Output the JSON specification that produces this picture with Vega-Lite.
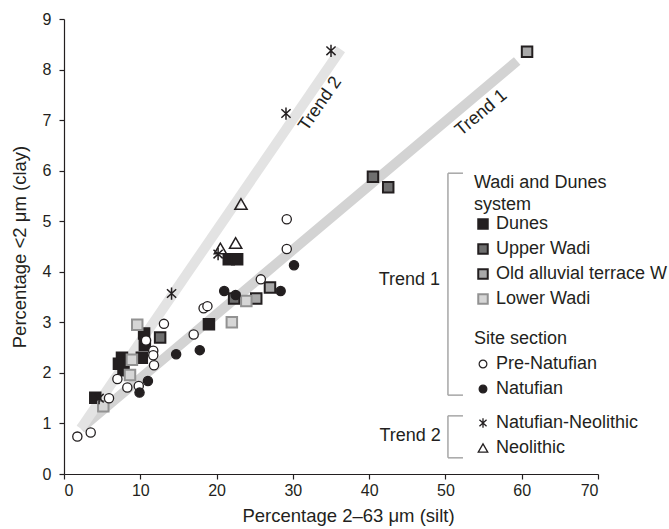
{
  "$schema": "https://vega.github.io/schema/vega-lite/v6.json",
  "width": 534,
  "height": 455,
  "autosize": {"type": "none"},
  "padding": {"left": 64, "top": 19, "right": 71, "bottom": 55},
  "background": "white",
  "config": {
    "view": {"stroke": null},
    "font": "Liberation Sans",
    "axis": {
      "grid": false,
      "domainColor": "#231f20",
      "domainWidth": 1.2,
      "tickColor": "#231f20",
      "tickWidth": 1.2,
      "tickSize": 5,
      "labelColor": "#231f20",
      "labelFontSize": 16,
      "labelFont": "Liberation Sans",
      "titleColor": "#231f20",
      "titleFontSize": 18.5,
      "titleFont": "Liberation Sans",
      "titleFontWeight": "normal"
    },
    "legend": {
      "labelFont": "Liberation Sans",
      "labelFontSize": 18,
      "labelColor": "#231f20",
      "labelLimit": 0,
      "titleFont": "Liberation Sans",
      "titleFontSize": 18,
      "titleLimit": 0,
      "titleFontWeight": "normal",
      "titleColor": "#231f20",
      "padding": 0,
      "rowPadding": 7,
      "labelOffset": 4
    }
  },
  "datasets": {
    "trends": [
      {"trend": "Trend 1", "silt": 2.2, "clay": 0.9},
      {"trend": "Trend 1", "silt": 59.4, "clay": 8.17},
      {"trend": "Trend 2", "silt": 2.2, "clay": 0.9},
      {"trend": "Trend 2", "silt": 36.3, "clay": 8.4}
    ],
    "wadi": [
      {"system": "Dunes", "silt": 4.1, "clay": 1.51},
      {"system": "Dunes", "silt": 7.6, "clay": 2.3},
      {"system": "Dunes", "silt": 7.2, "clay": 2.18},
      {"system": "Dunes", "silt": 7.8, "clay": 2.05},
      {"system": "Dunes", "silt": 10.5, "clay": 2.78},
      {"system": "Dunes", "silt": 10.6, "clay": 2.55},
      {"system": "Dunes", "silt": 10.2, "clay": 2.3},
      {"system": "Dunes", "silt": 19.0, "clay": 2.96},
      {"system": "Dunes", "silt": 21.6, "clay": 4.25},
      {"system": "Dunes", "silt": 22.7, "clay": 4.25},
      {"system": "Upper Wadi", "silt": 12.6, "clay": 2.7},
      {"system": "Upper Wadi", "silt": 22.3, "clay": 3.47},
      {"system": "Upper Wadi", "silt": 40.5, "clay": 5.88},
      {"system": "Upper Wadi", "silt": 42.5, "clay": 5.67},
      {"system": "Old alluvial terrace W", "silt": 25.2, "clay": 3.47},
      {"system": "Old alluvial terrace W", "silt": 27.0, "clay": 3.69},
      {"system": "Old alluvial terrace W", "silt": 60.7, "clay": 8.35},
      {"system": "Lower Wadi", "silt": 9.6, "clay": 2.95},
      {"system": "Lower Wadi", "silt": 8.9, "clay": 2.26},
      {"system": "Lower Wadi", "silt": 8.65, "clay": 1.96},
      {"system": "Lower Wadi", "silt": 5.15, "clay": 1.34},
      {"system": "Lower Wadi", "silt": 22.0, "clay": 3.0},
      {"system": "Lower Wadi", "silt": 23.9, "clay": 3.42}
    ],
    "site": [
      {"section": "Pre-Natufian", "silt": 1.75, "clay": 0.74},
      {"section": "Pre-Natufian", "silt": 3.5, "clay": 0.82},
      {"section": "Pre-Natufian", "silt": 5.9, "clay": 1.5},
      {"section": "Pre-Natufian", "silt": 7.0, "clay": 1.88},
      {"section": "Pre-Natufian", "silt": 8.3, "clay": 1.71},
      {"section": "Pre-Natufian", "silt": 9.8, "clay": 1.74},
      {"section": "Pre-Natufian", "silt": 10.75, "clay": 2.64},
      {"section": "Pre-Natufian", "silt": 11.7, "clay": 2.44},
      {"section": "Pre-Natufian", "silt": 11.7, "clay": 2.35},
      {"section": "Pre-Natufian", "silt": 11.8, "clay": 2.15},
      {"section": "Pre-Natufian", "silt": 13.1, "clay": 2.97},
      {"section": "Pre-Natufian", "silt": 17.0, "clay": 2.76},
      {"section": "Pre-Natufian", "silt": 18.3, "clay": 3.28},
      {"section": "Pre-Natufian", "silt": 18.8, "clay": 3.32},
      {"section": "Pre-Natufian", "silt": 25.8, "clay": 3.85},
      {"section": "Pre-Natufian", "silt": 29.2, "clay": 4.45},
      {"section": "Pre-Natufian", "silt": 29.2, "clay": 5.04},
      {"section": "Natufian", "silt": 9.9, "clay": 1.61},
      {"section": "Natufian", "silt": 11.0, "clay": 1.84},
      {"section": "Natufian", "silt": 14.7, "clay": 2.37},
      {"section": "Natufian", "silt": 17.8, "clay": 2.45},
      {"section": "Natufian", "silt": 21.0, "clay": 3.62},
      {"section": "Natufian", "silt": 22.5, "clay": 3.54},
      {"section": "Natufian", "silt": 28.4, "clay": 3.62},
      {"section": "Natufian", "silt": 30.15, "clay": 4.13}
    ],
    "trend2": [
      {"period": "Natufian-Neolithic", "silt": 4.6, "clay": 1.5},
      {"period": "Natufian-Neolithic", "silt": 14.1, "clay": 3.57},
      {"period": "Natufian-Neolithic", "silt": 20.2, "clay": 4.35},
      {"period": "Natufian-Neolithic", "silt": 29.1, "clay": 7.13},
      {"period": "Natufian-Neolithic", "silt": 35.0, "clay": 8.37},
      {"period": "Neolithic", "silt": 20.5, "clay": 4.46},
      {"period": "Neolithic", "silt": 22.5, "clay": 4.57},
      {"period": "Neolithic", "silt": 23.2, "clay": 5.34}
    ],
    "brackets": [
      {"group": "Trend 1", "silt": 50.33, "silt2": 50.33, "clay": 5.95, "clay2": 1.56},
      {"group": "Trend 1", "silt": 50.33, "silt2": 52.3, "clay": 5.95, "clay2": 5.95},
      {"group": "Trend 1", "silt": 50.33, "silt2": 52.3, "clay": 1.56, "clay2": 1.56},
      {"group": "Trend 2", "silt": 50.33, "silt2": 50.33, "clay": 1.15, "clay2": 0.32},
      {"group": "Trend 2", "silt": 50.33, "silt2": 52.3, "clay": 1.15, "clay2": 1.15},
      {"group": "Trend 2", "silt": 50.33, "silt2": 52.3, "clay": 0.32, "clay2": 0.32}
    ],
    "bracketLabels": [
      {"label": "Trend 1", "silt": 49.3, "clay": 3.84},
      {"label": "Trend 2", "silt": 49.4, "clay": 0.75}
    ]
  },
  "encoding": {
    "x": {
      "field": "silt", "type": "quantitative",
      "scale": {"domain": [0, 70], "nice": false},
      "axis": {"values": [0, 10, 20, 30, 40, 50, 60, 70], "title": "Percentage 2–63 μm (silt)", "labelPadding": 3, "titlePadding": 8, "titleX": 284}
    },
    "y": {
      "field": "clay", "type": "quantitative",
      "scale": {"domain": [0, 9], "nice": false},
      "axis": {"values": [0, 1, 2, 3, 4, 5, 6, 7, 8, 9], "title": "Percentage <2 μm (clay)", "labelPadding": 8, "titlePadding": 13}
    }
  },
  "layer": [
    {
      "data": {"name": "trends"},
      "mark": {"type": "line", "strokeWidth": 10, "strokeCap": "butt", "clip": false},
      "encoding": {
        "detail": {"field": "trend"},
        "stroke": {"field": "trend", "type": "nominal", "scale": {"domain": ["Trend 1", "Trend 2"], "range": ["#d3d3d3", "#e3e3e3"]}, "legend": null}
      }
    },
    {
      "data": {"values": [{"label": "Trend 2", "silt": 33.6, "clay": 7.32}]},
      "mark": {"type": "text", "angle": 304.5, "fontSize": 18, "color": "#231f20", "align": "center", "baseline": "middle"},
      "encoding": {"text": {"field": "label"}}
    },
    {
      "data": {"values": [{"label": "Trend 1", "silt": 54.7, "clay": 7.14}]},
      "mark": {"type": "text", "angle": 320, "fontSize": 18, "color": "#231f20", "align": "center", "baseline": "middle"},
      "encoding": {"text": {"field": "label"}}
    },
    {
      "data": {"name": "brackets"},
      "mark": {"type": "rule", "color": "#a6a6a6", "strokeWidth": 1.5, "clip": false},
      "encoding": {
        "x2": {"field": "silt2"},
        "y2": {"field": "clay2"}
      }
    },
    {
      "data": {"name": "bracketLabels"},
      "mark": {"type": "text", "fontSize": 18, "color": "#231f20", "align": "right", "baseline": "middle"},
      "encoding": {"text": {"field": "label"}}
    },
    {
      "data": {"name": "wadi"},
      "mark": {"type": "point", "shape": "square", "size": 110, "filled": true, "strokeWidth": 2, "opacity": 1},
      "encoding": {
        "fill": {
          "field": "system", "type": "nominal",
          "scale": {"domain": ["Dunes", "Upper Wadi", "Old alluvial terrace W", "Lower Wadi"], "range": ["#231f20", "#6f6f6f", "#a9a9a9", "#d6d6d6"]},
          "legend": {"title": ["Wadi and Dunes", "system"], "orient": "none", "legendX": 410, "legendY": 155, "titleLineHeight": 22, "titlePadding": 1, "symbolSize": 90, "symbolStrokeWidth": 2, "symbolType": "square"}
        },
        "stroke": {
          "field": "system", "type": "nominal",
          "scale": {"domain": ["Dunes", "Upper Wadi", "Old alluvial terrace W", "Lower Wadi"], "range": ["#231f20", "#231f20", "#231f20", "#929292"]},
          "legend": {"title": ["Wadi and Dunes", "system"], "orient": "none", "legendX": 410, "legendY": 155, "titleLineHeight": 22, "titlePadding": 1, "symbolSize": 90, "symbolStrokeWidth": 2, "symbolType": "square"}
        }
      }
    },
    {
      "data": {"name": "site"},
      "mark": {"type": "point", "shape": "circle", "size": 85, "filled": true, "stroke": "#231f20", "strokeWidth": 1.3, "opacity": 1},
      "encoding": {
        "fill": {
          "field": "section", "type": "nominal",
          "scale": {"domain": ["Pre-Natufian", "Natufian"], "range": ["#ffffff", "#231f20"]},
          "legend": {"title": "Site section", "orient": "none", "legendX": 410, "legendY": 311, "titlePadding": 7, "symbolSize": 60, "symbolStrokeColor": "#231f20", "symbolStrokeWidth": 1.2, "symbolType": "circle"}
        }
      }
    },
    {
      "data": {"name": "trend2"},
      "mark": {"type": "point", "size": 150, "filled": false, "stroke": "#231f20", "strokeWidth": 1.5, "opacity": 1},
      "encoding": {
        "shape": {
          "field": "period", "type": "nominal",
          "scale": {"domain": ["Natufian-Neolithic", "Neolithic"], "range": ["M0,-1L0,1M-0.75,-0.7L0.75,0.7M-0.75,0.7L0.75,-0.7", "triangle-up"]},
          "legend": {"title": null, "orient": "none", "legendX": 410, "legendY": 395, "symbolSize": 90, "symbolStrokeColor": "#231f20", "symbolFillColor": "transparent", "symbolStrokeWidth": 1.3}
        }
      }
    }
  ],
  "resolve": {"scale": {"fill": "independent", "stroke": "independent", "shape": "independent"}}
}
